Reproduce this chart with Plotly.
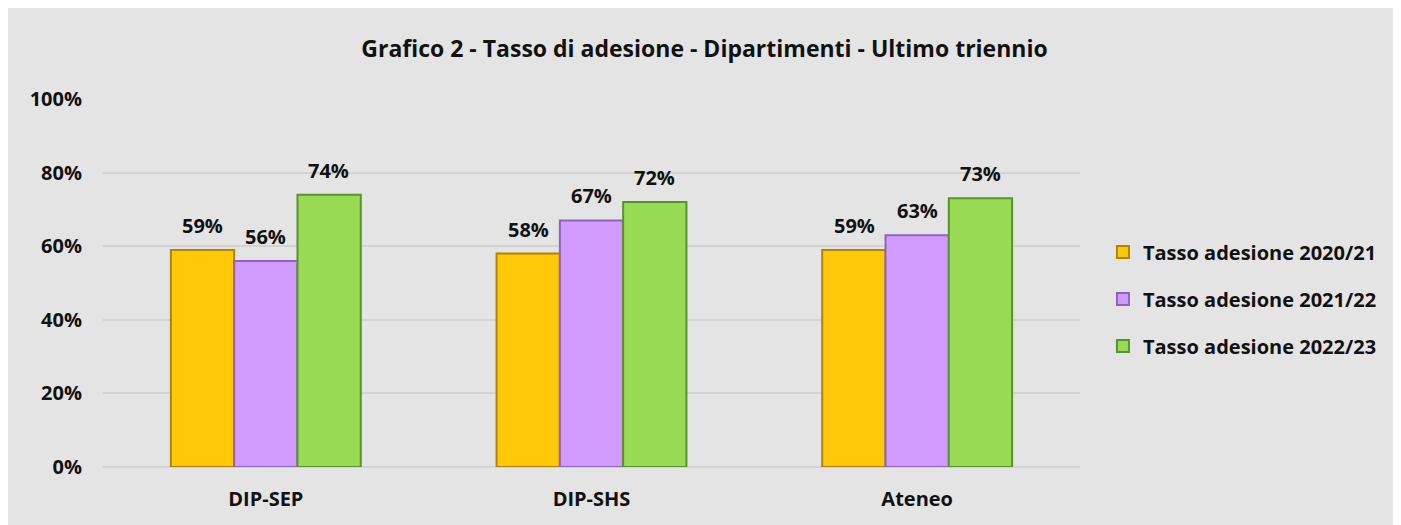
import plotly.graph_objects as go

categories = ["DIP-SEP", "DIP-SHS", "Ateneo"]
series_names = ["Tasso adesione 2020/21", "Tasso adesione 2021/22", "Tasso adesione 2022/23"]
v2020 = [0.59, 0.58, 0.59]
v2021 = [0.56, 0.67, 0.63]
v2022 = [0.74, 0.72, 0.73]

colors = ["#FFC90A", "#D29BFF", "#99DB55"]
edges = ["#B08400", "#8F62C0", "#5A9230"]
offsets = [-63, 0, 63]   # px shift of each series' label inside its group

fig = go.Figure()
annotations = []
for i, (name, vals) in enumerate(zip(series_names, [v2020, v2021, v2022])):
    fig.add_trace(go.Bar(
        x=categories, y=vals, name=name, legendgroup=f"g{i}",
        marker=dict(color=colors[i], line=dict(color=edges[i], width=2)),
    ))
    for c, v in zip(categories, vals):
        annotations.append(dict(x=c, y=v, text=f"{v:.0%}", showarrow=False,
                                xshift=offsets[i], yshift=9, yanchor="bottom",
                                font=dict(size=20, color="#111111", weight="bold")))

fig.update_layout(
    width=1393, height=517,
    margin=dict(l=95, r=321, t=91, b=58),
    paper_bgcolor="#E4E4E4", plot_bgcolor="#E4E4E4",
    barmode="group", bargap=0.417, bargroupgap=0,
    font=dict(family="Open Sans", color="#111111", weight="bold"),
    title=dict(text="Grafico 2 - Tasso di adesione - Dipartimenti - Ultimo triennio",
               x=0.5, xanchor="center", y=0.921, yanchor="middle",
               font=dict(size=23, color="#111111", weight="bold")),
    legend=dict(x=1.0235, xanchor="left", y=0.4565, yanchor="middle",
                font=dict(size=20, color="#111111", weight="bold"), itemwidth=30,
                tracegroupgap=18, bgcolor="rgba(0,0,0,0)"),
    annotations=annotations,
)
fig.update_xaxes(showgrid=False, showline=False, ticks="",
                 tickfont=dict(size=20, weight="bold"), ticklabelstandoff=18)
fig.update_yaxes(range=[0, 1], dtick=0.2, tickformat=".0%", showgrid=True,
                 gridcolor="#D3D3D3", gridwidth=2, zeroline=True, zerolinecolor="#D3D3D3",
                 zerolinewidth=2, showline=False, ticks="",
                 tickfont=dict(size=20, weight="bold"), ticklabelstandoff=20)

fig.write_html("out.html")
